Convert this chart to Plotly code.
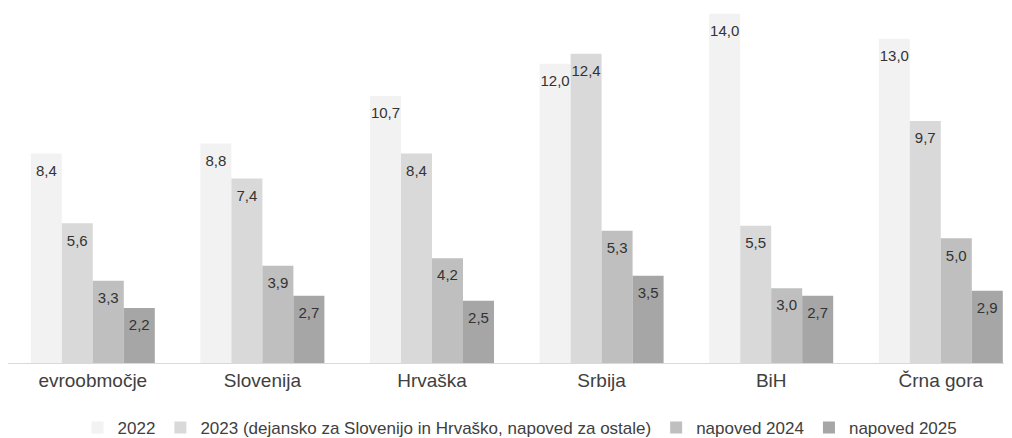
import plotly.graph_objects as go

categories = ["evroobmočje", "Slovenija", "Hrvaška", "Srbija", "BiH", "Črna gora"]
series_names = ["2022", "2023 (dejansko za Slovenijo in Hrvaško, napoved za ostale)",
                "napoved 2024", "napoved 2025"]
v2022 = [8.4, 8.8, 10.7, 12.0, 14.0, 13.0]
v2023 = [5.6, 7.4, 8.4, 12.4, 5.5, 9.7]
v2024 = [3.3, 3.9, 4.2, 5.3, 3.0, 5.0]
v2025 = [2.2, 2.7, 2.5, 3.5, 2.7, 2.9]
colors = ["#f2f2f2", "#d9d9d9", "#bfbfbf", "#a6a6a6"]

values = [v2022, v2023, v2024, v2025]
FONT = "Liberation Sans"

fig = go.Figure()
for i, (name, vals, col) in enumerate(zip(series_names, values, colors)):
    fig.add_trace(go.Bar(
        x=categories, y=vals, name=name, marker_color=col, marker_line_width=0,
        offsetgroup=str(i), alignmentgroup="a", hoverinfo="skip",
    ))
for i, vals in enumerate(values):
    fig.add_trace(go.Scatter(
        x=categories, y=vals, mode="markers+text", offsetgroup=str(i), alignmentgroup="a",
        text=[f"{v:.1f}".replace(".", ",") for v in vals],
        textposition="bottom center",
        marker=dict(size=16, opacity=0, color="rgba(0,0,0,0)"),
        textfont=dict(family=FONT, size=15, color="#333333"),
        showlegend=False, hoverinfo="skip", cliponaxis=False,
    ))

fig.update_layout(
    width=1012, height=438,
    margin=dict(l=0, r=0, t=2, b=77),
    paper_bgcolor="white", plot_bgcolor="white",
    barmode="group", bargap=0.269, bargroupgap=0,
    scattermode="group", scattergap=0.269,
    font=dict(family=FONT, color="#404040"),
    showlegend=True,
    legend=dict(orientation="h", x=0.506, xanchor="center", y=-0.185, yanchor="middle",
                font=dict(family=FONT, size=17, color="#404040"), itemwidth=30,
                traceorder="normal", itemclick=False),
    xaxis=dict(range=[-0.5, 5.467], showline=True, linecolor="#d9d9d9", linewidth=1,
               ticks="", showgrid=False, tickfont=dict(family=FONT, size=19, color="#404040")),
    yaxis=dict(range=[0, 14.15], visible=False, showgrid=False, zeroline=False),
)

fig.write_html("out.html")
